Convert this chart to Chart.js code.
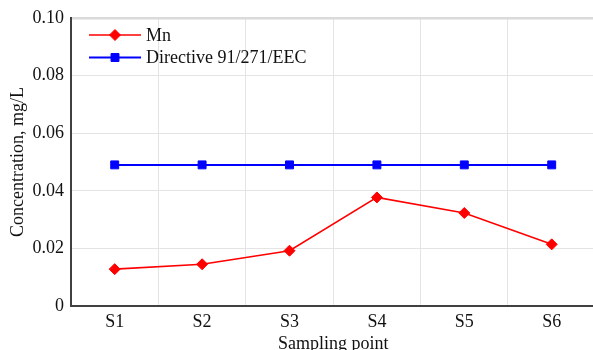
<!DOCTYPE html>
<html>
<head>
<meta charset="utf-8">
<script src="https://cdn.jsdelivr.net/npm/chart.js@4/dist/chart.umd.min.js"></script>
<style>
  html, body { margin: 0; padding: 0; background: #fff; overflow: hidden; }
  #wrap { position: absolute; left: 0; top: 0; width: 602px; height: 362px; }
</style>
</head>
<body>
<div id="wrap"><canvas id="c" width="602" height="362"></canvas></div>
<script>
// Sampling points along the watercourse
const categories = ['S1', 'S2', 'S3', 'S4', 'S5', 'S6'];
// Measured manganese concentration, mg/L
const mnValues = [0.0128, 0.0145, 0.0192, 0.0377, 0.0323, 0.0214];
// Limit value from Directive 91/271/EEC, mg/L
const limitValues = [0.049, 0.049, 0.049, 0.049, 0.049, 0.049];
// Y-axis tick labels
const yTickLabels = ['0', '0.02', '0.04', '0.06', '0.08', '0.10'];

const FONT = '"Liberation Serif", "Times New Roman", serif';

// Legend drawn inside the plot area: line sample with its marker, then the label
const innerLegend = {
  id: 'innerLegend',
  afterDraw(chart) {
    const { ctx, chartArea } = chart;
    const x0 = chartArea.left + 18;
    const lineLen = 52;
    chart.data.datasets.forEach((ds, i) => {
      const y = chartArea.top + 17 + i * 22.5;
      ctx.save();
      ctx.strokeStyle = ds.borderColor;
      ctx.lineWidth = ds.borderWidth;
      ctx.beginPath();
      ctx.moveTo(x0, y);
      ctx.lineTo(x0 + lineLen, y);
      ctx.stroke();
      ctx.fillStyle = ds.pointBackgroundColor;
      ctx.strokeStyle = ds.pointBorderColor;
      ctx.lineWidth = 1;
      Chart.helpers.drawPoint(ctx, {
        pointStyle: ds.pointStyle,
        rotation: 0,
        radius: ds.pointRadius,
        borderWidth: 1
      }, x0 + lineLen / 2, y);
      ctx.fillStyle = '#111';
      ctx.font = '18px ' + FONT;
      ctx.textBaseline = 'middle';
      ctx.textAlign = 'left';
      ctx.fillText(ds.label, x0 + lineLen + 5, y + 1);
      ctx.restore();
    });
  }
};

new Chart(document.getElementById('c'), {
  type: 'line',
  data: {
    labels: categories,
    datasets: [
      {
        label: 'Mn',
        data: mnValues,
        borderColor: '#ff0000',
        borderWidth: 1.6,
        pointStyle: 'rectRot',
        pointRadius: 5.5,
        pointBackgroundColor: '#ff0000',
        pointBorderColor: '#ff0000',
        pointBorderWidth: 1,
        tension: 0
      },
      {
        label: 'Directive 91/271/EEC',
        data: limitValues,
        borderColor: '#0000ff',
        borderWidth: 2,
        pointStyle: 'rect',
        pointRadius: 5.6,
        pointBackgroundColor: '#0000ff',
        pointBorderColor: '#0000ff',
        pointBorderWidth: 1,
        tension: 0
      }
    ]
  },
  options: {
    responsive: false,
    animation: false,
    devicePixelRatio: 1,
    layout: { padding: { left: 0, top: 18, right: 5, bottom: 0 } },
    plugins: {
      legend: { display: false },
      tooltip: { enabled: false }
    },
    scales: {
      x: {
        offset: true,
        grid: {
          offset: true,
          drawTicks: false,
          color: '#e4e4e4',
          lineWidth: 1
        },
        border: { color: '#404040', width: 2 },
        ticks: {
          padding: 5,
          color: '#111',
          font: { family: FONT, size: 18 }
        },
        title: {
          display: true,
          text: 'Sampling point',
          color: '#111',
          padding: { top: 0, bottom: 7 },
          font: { family: FONT, size: 18 }
        },
        afterFit(scale) { scale.height = 56; }
      },
      y: {
        min: 0,
        max: 0.10,
        grid: {
          drawTicks: false,
          color: (c) => c.tick && c.tick.value >= 0.099 ? '#dadada' : '#e4e4e4',
          lineWidth: (c) => c.tick && c.tick.value >= 0.099 ? 2.5 : 1
        },
        border: { color: '#404040', width: 2 },
        ticks: {
          stepSize: 0.02,
          padding: 7,
          color: '#111',
          font: { family: FONT, size: 18 },
          callback: (v, i) => yTickLabels[i]
        },
        title: {
          display: true,
          text: 'Concentration, mg/L',
          color: '#111',
          padding: { top: 7, bottom: 0 },
          font: { family: FONT, size: 18 }
        },
        afterFit(scale) { scale.width = 71; }
      }
    }
  },
  plugins: [innerLegend]
});
</script>
</body>
</html>
